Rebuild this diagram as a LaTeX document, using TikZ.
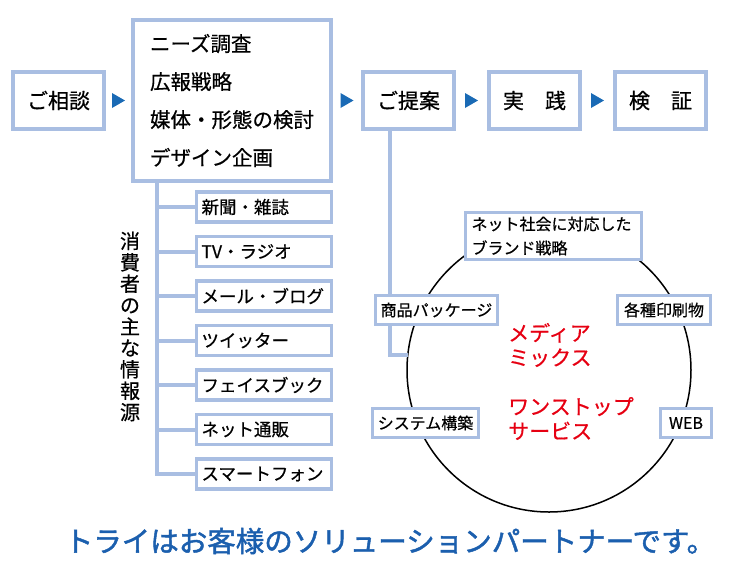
\documentclass[tikz,border=0pt]{standalone}
\usepackage{fontspec}
\setmainfont{Noto Sans CJK JP}[FakeBold=0.6]
\newfontfamily\tagfont{Noto Sans CJK JP}[FakeBold=1.6]
\usetikzlibrary{calc}
\definecolor{boxline}{HTML}{A9BEE2}
\definecolor{arrblue}{HTML}{1A6AB5}
\definecolor{mixred}{HTML}{E60012}
\definecolor{tagblue}{HTML}{1B5FAE}
\tikzset{
  mainbox/.style={draw=boxline, line width=4pt, fill=white, inner sep=0pt, minimum width=91pt, minimum height=57pt, font=\fontsize{21}{25}\selectfont},
  mediabox/.style={draw=boxline, line width=3.5pt, fill=white, inner ysep=0pt, inner xsep=5pt, text width=125pt, align=left, minimum height=30pt, font=\fontsize{17.5}{20}\selectfont},
  circbox/.style={draw=boxline, line width=3pt, fill=white, inner sep=0pt, minimum height=29pt, font=\fontsize{16}{24}\selectfont},
  link/.style={draw=boxline, line width=4pt},
  tri/.style={fill=arrblue}
}
\begin{document}
\begin{tikzpicture}[x=1pt,y=-1pt]
\useasboundingbox (0,0) rectangle (753,566);
% flow boxes
\node[mainbox] (soudan) at (58.5,100.5) {ご相談};
\node[mainbox, minimum width=198pt, minimum height=161pt, text width=164pt, inner xsep=17pt, align=left, font=\fontsize{20.5}{38}\selectfont] (plan) at (232,100.5) {ニーズ調査\\広報戦略\\媒体・形態の検討\\デザイン企画};
\node[mainbox] (teian) at (408.5,100.5) {ご提案};
\node[mainbox] (jissen) at (534.5,100.5) {実　践};
\node[mainbox] (kensho) at (660.5,100.5) {検　証};
% triangles
\foreach \a/\b in {soudan/plan, plan/teian, teian/jissen, jissen/kensho}{
  \fill[tri] ($(\a.east)!0.5!(\b.west)+(-6.5,-7.5)$) -- ++(0,15) -- ++(13,-7.5) -- cycle;
}
% media boxes
\coordinate (trunk) at (157,0);
\node[mediabox] (m1) at (264,207) {新聞・雑誌};
\node[mediabox] (m2) at (264,251.5) {TV・ラジオ};
\node[mediabox] (m3) at (264,296) {メール・ブログ};
\node[mediabox] (m4) at (264,340.5) {ツイッター};
\node[mediabox] (m5) at (264,385) {フェイスブック};
\node[mediabox] (m6) at (264,429.5) {ネット通販};
\node[mediabox] (m7) at (264,474) {スマートフォン};
\draw[link] (plan.south -| trunk) |- (m7.west);
\foreach \m in {m1,m2,m3,m4,m5,m6}{
  \draw[link] (trunk |- \m.west) -- (\m.west);
}
\node[align=center, inner sep=0pt, font=\fontsize{20}{21.4}\selectfont] (src) at (130,326.5) {消\\費\\者\\の\\主\\な\\情\\報\\源};
% circle
\node[draw=black, line width=1.5pt, circle, minimum size=284pt, inner sep=0pt] (circ) at (549,370) {};
\coordinate (cend) at (408,355);
\draw[link] (teian.south -| 390,0) |- (cend);
\node[circbox, minimum width=176pt, minimum height=47pt, text width=164pt, inner xsep=6pt, align=left, font=\fontsize{16}{24}\selectfont] (brand) at (553.5,236) {ネット社会に対応した\\ブランド戦略};
\node[circbox, minimum width=122pt] (pkg) at (436.5,310) {商品パッケージ};
\node[circbox, minimum width=93pt] (print) at (664,310) {各種印刷物};
\node[circbox, minimum width=106pt] (sys) at (425.5,423) {システム構築};
\node[circbox, minimum width=51pt] (web) at (686,423) {WEB};
\node[anchor=west, align=left, text=mixred, inner sep=0pt, font=\fontsize{21}{24.5}\selectfont] (mix) at (508,345) {メディア\\ミックス};
\node[anchor=west, align=left, text=mixred, inner sep=0pt, font=\fontsize{21}{24.5}\selectfont] (stop) at (508,418.5) {ワンストップ\\サービス};
% tagline
\node[text=tagblue, inner sep=0pt, font=\tagfont\fontsize{28.5}{32}\selectfont] (tag) at (390,541) {トライはお客様のソリューションパートナーです。};
\end{tikzpicture}
\end{document}
